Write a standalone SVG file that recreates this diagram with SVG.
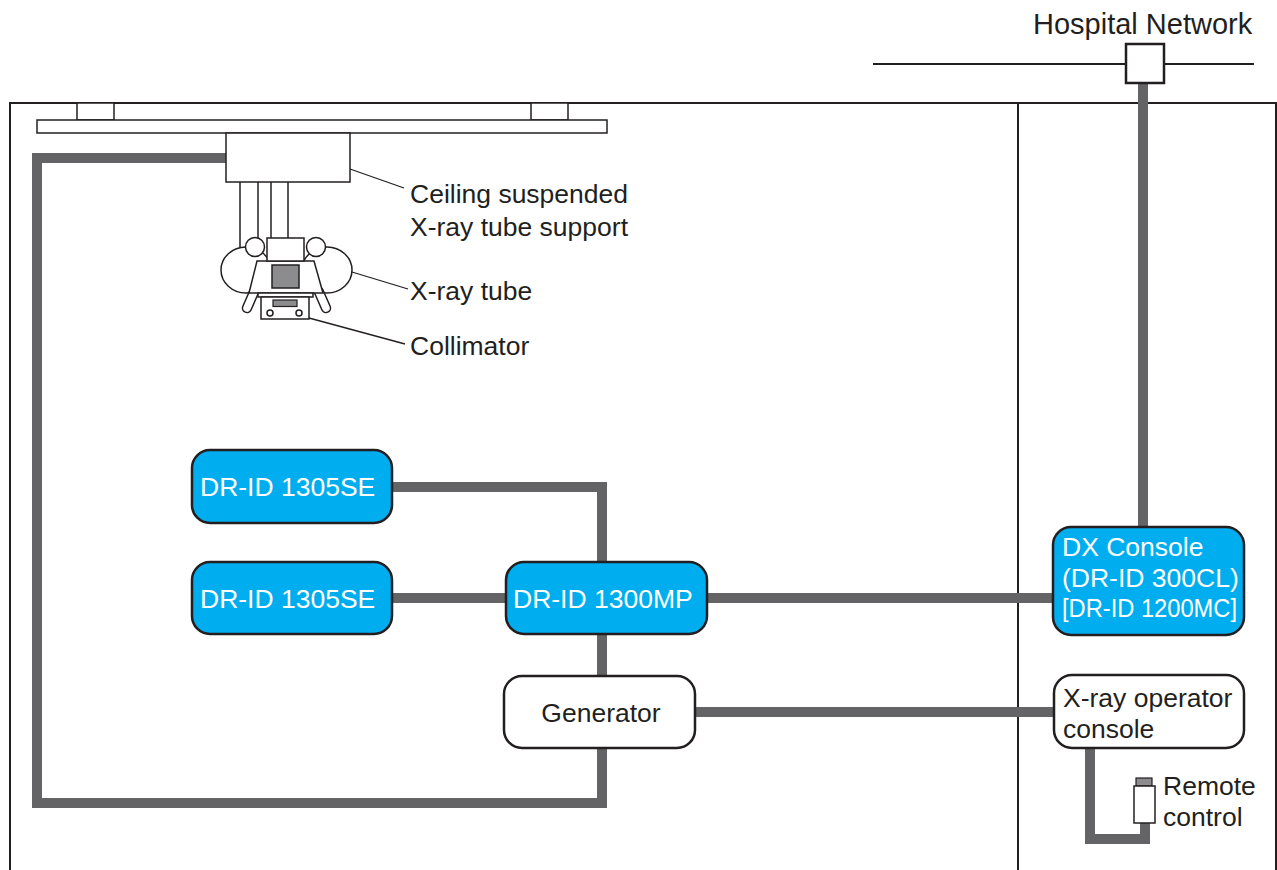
<svg xmlns="http://www.w3.org/2000/svg" width="1277" height="870" viewBox="0 0 1277 870">
  <style>
    .frame { fill: none; stroke: #231f20; stroke-width: 2; }
    .draw { fill: #ffffff; stroke: #231f20; stroke-width: 1.5; }
    .lead { fill: none; stroke: #231f20; stroke-width: 1.3; }
    .cable { fill: none; stroke: #646466; stroke-width: 10; stroke-linejoin: miter; stroke-linecap: butt; }
    .blue { fill: #00aeef; stroke: #231f20; stroke-width: 2.5; }
    .white { fill: #ffffff; stroke: #231f20; stroke-width: 2.5; }
    .lbl { font-family: "Liberation Sans", Arial, sans-serif; font-size: 26.5px; fill: #231f20; }
    .wlbl { font-family: "Liberation Sans", Arial, sans-serif; font-size: 26.5px; fill: #ffffff; }
  </style>

  <rect width="1277" height="870" fill="#ffffff"/>

  <!-- room walls -->
  <g id="room">
    <path class="frame" d="M10,870 V103 H1277"/>
    <line class="frame" x1="1018" y1="103" x2="1018" y2="870"/>
    <line class="frame" x1="1276" y1="103" x2="1276" y2="870"/>
  </g>

  <!-- hospital network bus -->
  <g id="network">
    <line x1="873" y1="64" x2="1254" y2="64" stroke="#231f20" stroke-width="2"/>
    <text class="lbl" x="1033" y="34" style="font-size:29px">Hospital Network</text>
  </g>

  <!-- cables -->
  <g id="connectors">
    <path class="cable" d="M1143,83 V528"/>
    <path class="cable" d="M392,487 H602 V562"/>
    <path class="cable" d="M392,598 H506"/>
    <path class="cable" d="M707,598 H1053"/>
    <path class="cable" d="M602,634 V676"/>
    <path class="cable" d="M695,712 H1054"/>
    <path class="cable" d="M602,748 V803 H37 V158 H226"/>
    <path class="cable" d="M1090,748 V839 H1145 V823"/>
  </g>

  <g id="network-outlet">
    <rect x="1126" y="44" width="38" height="39" fill="#ffffff" stroke="#231f20" stroke-width="2.5"/>
  </g>

  <!-- ceiling suspended X-ray tube support -->
  <g id="tube-support">
    <rect class="draw" x="77" y="103" width="37" height="17"/>
    <rect class="draw" x="531" y="103" width="37" height="17"/>
    <rect class="draw" x="37" y="120" width="570" height="13"/>
    <rect class="draw" x="226" y="133" width="124" height="49"/>
    <line class="draw" x1="240" y1="182" x2="240" y2="249"/>
    <line class="draw" x1="258" y1="182" x2="258" y2="238"/>
    <line class="draw" x1="271" y1="182" x2="271" y2="238"/>
    <line class="draw" x1="288" y1="182" x2="288" y2="238"/>
    <line class="lead" x1="350" y1="169" x2="404" y2="188"/>
    <text class="lbl" x="410" y="203">Ceiling suspended</text>
    <text class="lbl" x="410" y="236">X-ray tube support</text>
  </g>

  <!-- X-ray tube -->
  <g id="xray-tube">
    <ellipse class="draw" cx="246" cy="270" rx="25" ry="23"/>
    <ellipse class="draw" cx="327" cy="270" rx="25" ry="23"/>
    <line x1="254" y1="292" x2="247" y2="308" stroke="#231f20" stroke-width="10.5" stroke-linecap="round"/>
    <line x1="254" y1="292" x2="247" y2="308" stroke="#ffffff" stroke-width="7.5" stroke-linecap="round"/>
    <line x1="319" y1="292" x2="326" y2="308" stroke="#231f20" stroke-width="10.5" stroke-linecap="round"/>
    <line x1="319" y1="292" x2="326" y2="308" stroke="#ffffff" stroke-width="7.5" stroke-linecap="round"/>
    <polygon class="draw" points="257,261 314,261 323,293 249,293"/>
    <rect x="272" y="265" width="27" height="23" fill="#8c8c8e" stroke="#231f20" stroke-width="1.5"/>
    <rect class="draw" x="267" y="238" width="37" height="23"/>
    <circle class="draw" cx="255" cy="247" r="9.5"/>
    <circle class="draw" cx="316" cy="247" r="9.5"/>
    <line class="lead" x1="352" y1="272" x2="408" y2="289"/>
    <text class="lbl" x="410" y="300">X-ray tube</text>
  </g>

  <!-- collimator -->
  <g id="collimator">
    <rect class="draw" x="258" y="293" width="55" height="4"/>
    <rect class="draw" x="261" y="297" width="48" height="22"/>
    <rect x="273" y="300" width="24" height="6.5" fill="#8c8c8e" stroke="#231f20" stroke-width="1.2"/>
    <circle class="draw" cx="270" cy="313" r="3"/>
    <circle class="draw" cx="299" cy="313" r="3"/>
    <line class="lead" x1="309" y1="318" x2="405" y2="344"/>
    <text class="lbl" x="410" y="355">Collimator</text>
  </g>

  <!-- detectors and interface -->
  <g id="dr-id-1305se-a">
    <rect class="blue" x="192" y="450" width="200" height="73" rx="18"/>
    <text class="wlbl" x="200" y="496">DR-ID 1305SE</text>
  </g>
  <g id="dr-id-1305se-b">
    <rect class="blue" x="192" y="562" width="200" height="72" rx="18"/>
    <text class="wlbl" x="200" y="608">DR-ID 1305SE</text>
  </g>
  <g id="dr-id-1300mp">
    <rect class="blue" x="506" y="562" width="201" height="72" rx="18"/>
    <text class="wlbl" x="513" y="608">DR-ID 1300MP</text>
  </g>
  <g id="generator">
    <rect class="white" x="504" y="676" width="191" height="72" rx="18"/>
    <text class="lbl" x="601" y="722" text-anchor="middle">Generator</text>
  </g>
  <g id="dx-console">
    <rect class="blue" x="1053" y="527" width="191" height="108" rx="18"/>
    <text class="wlbl" x="1062" y="556">DX Console</text>
    <text class="wlbl" x="1062" y="587">(DR-ID 300CL)</text>
    <text class="wlbl" x="1062" y="617" textLength="175" lengthAdjust="spacingAndGlyphs">[DR-ID 1200MC]</text>
  </g>
  <g id="operator-console">
    <rect class="white" x="1054" y="675" width="190" height="73" rx="18"/>
    <text class="lbl" x="1063" y="707">X-ray operator</text>
    <text class="lbl" x="1063" y="738">console</text>
  </g>
  <g id="remote-control">
    <rect x="1136" y="778" width="16" height="8" fill="#8c8c8e" stroke="#231f20" stroke-width="1.2"/>
    <rect x="1134" y="786" width="21" height="37" fill="#ffffff" stroke="#231f20" stroke-width="1.5"/>
    <text class="lbl" x="1163" y="795">Remote</text>
    <text class="lbl" x="1163" y="826">control</text>
  </g>
</svg>
